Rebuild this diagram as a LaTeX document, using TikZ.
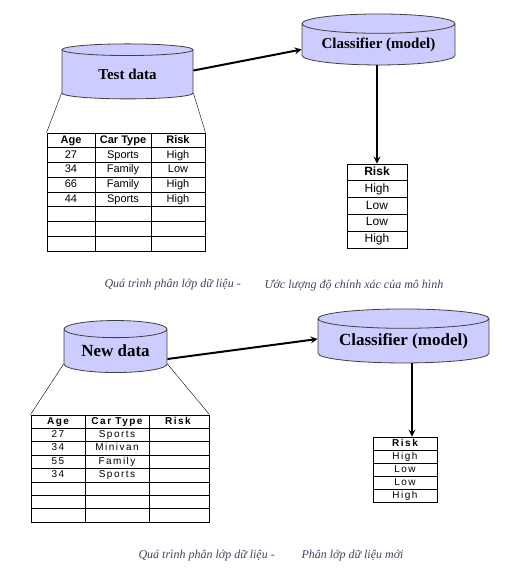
\documentclass[tikz,border=0pt]{standalone}
\usepackage{fontspec}
\setmainfont{Liberation Serif}
\setsansfont{Liberation Sans}
\newfontfamily\spacedsans[LetterSpace=15]{Liberation Sans}
\usetikzlibrary{shapes.geometric}
\definecolor{dbfill}{RGB}{204,204,255}
\definecolor{dbline}{RGB}{64,64,64}
\definecolor{captext}{RGB}{60,70,95}
\begin{document}
\begin{tikzpicture}[
    x=1pt, y=-1pt,
    db/.style={cylinder, shape border rotate=90, draw=dbline, fill=dbfill, line width=0.8pt, inner sep=0pt, font=\bfseries},
    tabframe/.style={rectangle, draw, line width=0.9pt, inner sep=0pt},
    tabline/.style={line width=0.8pt},
    cell/.style={inner sep=0pt, text height=8pt, text depth=2pt, font=\sffamily\fontsize{11}{12}\selectfont},
    cellhead/.style={cell, font=\sffamily\bfseries\fontsize{11}{12}\selectfont},
    rcell/.style={cell, font=\sffamily\fontsize{12}{13}\selectfont},
    rcellhead/.style={cell, font=\sffamily\bfseries\fontsize{12}{13}\selectfont},
    scell/.style={cell, text height=7pt, font=\spacedsans\fontsize{10}{11}\selectfont},
    scellhead/.style={cell, text height=7pt, font=\spacedsans\bfseries\fontsize{10}{11}\selectfont},
    arrow/.style={->, >=stealth, line width=2pt},
    captiontext/.style={anchor=west, font=\itshape\fontsize{12}{14}\selectfont, text=captext}
]
    \useasboundingbox (0,0) rectangle (517,568);

    % Uoc luong do chinh xac
    \node[db, minimum width=131pt, minimum height=55pt, aspect=0.2, font=\bfseries\fontsize{15}{17}\selectfont] (testdata) at (127.5,74.5) {Test data};
    \node[db, minimum width=153pt, minimum height=51pt, aspect=0.17, font=\bfseries\fontsize{15}{17}\selectfont] (classif1) at (378.5,44.5) {Classifier (model)};

    \draw[arrow] ([yshift=4pt]testdata.east) -- ([yshift=-5pt]classif1.west);

    % Bang du lieu kiem tra
    \node[tabframe, minimum width=158pt, minimum height=118pt] (testtab) at (126,192) {};
    \draw[tabline] (95,133) -- (95,251) (151,133) -- (151,251)
        (47,147.75) -- (205,147.75) (47,162.5) -- (205,162.5)
        (47,177.25) -- (205,177.25) (47,192) -- (205,192)
        (47,206.75) -- (205,206.75) (47,221.5) -- (205,221.5)
        (47,236.25) -- (205,236.25);
    \draw (testdata.after bottom) -- (testtab.north west);
    \draw (testdata.before bottom) -- (testtab.north east);

    \node[cellhead] (age1) at (71,140.4) {Age};
    \node[cellhead] (type1) at (123,140.4) {Car Type};
    \node[cellhead] (risk1) at (178,140.4) {Risk};
    \node[cell] (a11) at (71,155.1) {27};
    \node[cell] (t11) at (123,155.1) {Sports};
    \node[cell] (r11) at (178,155.1) {High};
    \node[cell] (a12) at (71,169.9) {34};
    \node[cell] (t12) at (123,169.9) {Family};
    \node[cell] (r12) at (178,169.9) {Low};
    \node[cell] (a13) at (71,184.6) {66};
    \node[cell] (t13) at (123,184.6) {Family};
    \node[cell] (r13) at (178,184.6) {High};
    \node[cell] (a14) at (71,199.4) {44};
    \node[cell] (t14) at (123,199.4) {Sports};
    \node[cell] (r14) at (178,199.4) {High};

    % Ket qua phan lop
    \node[tabframe, minimum width=60pt, minimum height=84pt] (risktab1) at (377,206) {};
    \draw[tabline] (347,180.8) -- (407,180.8) (347,197.6) -- (407,197.6)
        (347,214.4) -- (407,214.4) (347,231.2) -- (407,231.2);
    \draw[arrow] ([xshift=-1.5pt]classif1.south) -- (risktab1.north);

    \node[rcellhead] (rh1) at (377,172.4) {Risk};
    \node[rcell] (rv11) at (377,189.2) {High};
    \node[rcell] (rv12) at (377,206) {Low};
    \node[rcell] (rv13) at (377,222.8) {Low};
    \node[rcell] (rv14) at (377,239.6) {High};

    \node[captiontext] (cap1a) at (101,285) {Quá trình phân lớp dữ liệu -};
    \node[captiontext] (cap1b) at (261,285) {Ước lượng độ chính xác của mô hình};

    % Phan lop du lieu moi
    \node[db, minimum width=103pt, minimum height=52pt, aspect=0.25, font=\bfseries\fontsize{17}{19}\selectfont] (newdata) at (115.5,351) {New data};
    \node[db, minimum width=171pt, minimum height=54pt, aspect=0.15, font=\bfseries\fontsize{17}{19}\selectfont] (classif2) at (403.5,341) {Classifier (model)};

    \draw[arrow] ([yshift=-8pt]newdata.east) -- ([yshift=2pt]classif2.west);

    % Bang du lieu moi
    \node[tabframe, minimum width=178pt, minimum height=107pt] (newtab) at (120,468.5) {};
    \draw[tabline] (85,415) -- (85,522) (149,415) -- (149,522)
        (31,428.4) -- (209,428.4) (31,441.75) -- (209,441.75)
        (31,455.1) -- (209,455.1) (31,468.5) -- (209,468.5)
        (31,481.9) -- (209,481.9) (31,495.25) -- (209,495.25)
        (31,508.6) -- (209,508.6);
    \draw (newdata.after bottom) -- (newtab.north west);
    \draw (newdata.before bottom) -- (newtab.north east);

    \node[scellhead] (age2) at (58,421.7) {Age};
    \node[scellhead] (type2) at (117,421.7) {Car Type};
    \node[scellhead] (risk2) at (178,421.7) {Risk};
    \node[scell] (a21) at (58,435.1) {27};
    \node[scell] (t21) at (117,435.1) {Sports};
    \node[scell] (a22) at (58,448.4) {34};
    \node[scell] (t22) at (117,448.4) {Minivan};
    \node[scell] (a23) at (58,461.8) {55};
    \node[scell] (t23) at (117,461.8) {Family};
    \node[scell] (a24) at (58,475.2) {34};
    \node[scell] (t24) at (117,475.2) {Sports};

    % Ket qua du doan
    \node[tabframe, minimum width=64pt, minimum height=65pt] (risktab2) at (405,469.5) {};
    \draw[tabline] (373,450) -- (437,450) (373,463) -- (437,463)
        (373,476) -- (437,476) (373,489) -- (437,489);
    \draw[arrow] ([xshift=8.5pt]classif2.south) -- ([xshift=8.5pt]classif2.south |- risktab2.north);

    \node[scellhead] (rh2) at (405,443.5) {Risk};
    \node[scell] (rv21) at (405,456.5) {High};
    \node[scell] (rv22) at (405,469.5) {Low};
    \node[scell] (rv23) at (405,482.5) {Low};
    \node[scell] (rv24) at (405,495.5) {High};

    \node[captiontext] (cap2a) at (135,556) {Quá trình phân lớp dữ liệu -};
    \node[captiontext] (cap2b) at (298,556) {Phân lớp dữ liệu mới};
\end{tikzpicture}
\end{document}
